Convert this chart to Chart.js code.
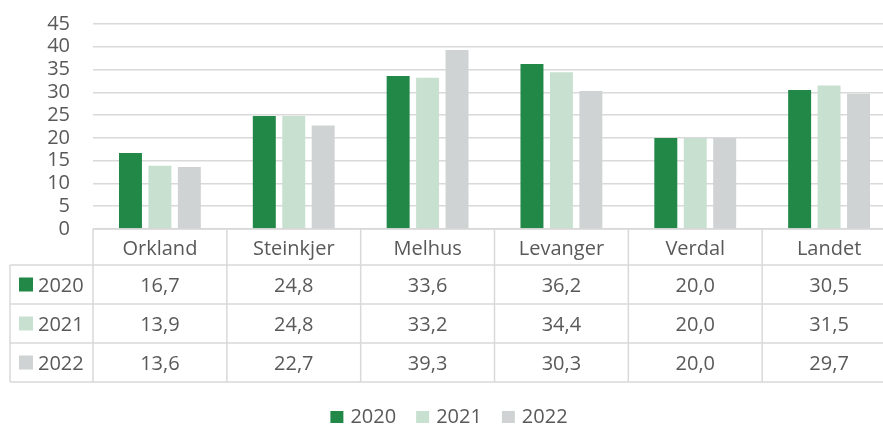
<!DOCTYPE html>
<html>
<head>
<meta charset="utf-8">
<script src="https://cdn.jsdelivr.net/npm/chart.js@4.4.1/dist/chart.umd.min.js"></script>
<style>
html,body{margin:0;padding:0;overflow:hidden;background:#ffffff;width:883px;height:425px;}
canvas{display:block;}
</style>
</head>
<body>
<canvas id="c" width="896" height="425" style="width:896px;height:425px"></canvas>
<script>
// ---- data ----
const categories = ['Orkland', 'Steinkjer', 'Melhus', 'Levanger', 'Verdal', 'Landet'];
const seriesLabels = ['2020', '2021', '2022'];
const values2020 = [16.7, 24.8, 33.6, 36.2, 20.0, 30.5];
const values2021 = [13.9, 24.8, 33.2, 34.4, 20.0, 31.5];
const values2022 = [13.6, 22.7, 39.3, 30.3, 20.0, 29.7];
const yTickValues = [0, 5, 10, 15, 20, 25, 30, 35, 40, 45];

const seriesValues = [values2020, values2021, values2022];
const seriesColors = ['#218847', '#C8E0CF', '#D0D3D4'];
const textColor = '#595959';
const lineColor = '#D9D9D9';
const fontFamily = '"Open Sans", "Noto Sans", sans-serif';

function fmt(v) { return v.toFixed(1).replace('.', ','); }

const tablePlugin = {
  id: 'dataTable',
  afterDraw(chart) {
    const ctx = chart.ctx;
    const ca = chart.chartArea;
    const xs = chart.scales.x;
    const n = categories.length;
    const colW = (ca.right - ca.left) / n;
    const top = ca.bottom;
    const hdrB = top + 36;
    const rowH = 39;
    const tableLeft = 10;
    const bottom = hdrB + rowH * seriesLabels.length;

    ctx.save();
    ctx.strokeStyle = lineColor;
    ctx.lineWidth = 1.5;
    ctx.beginPath();
    ctx.moveTo(ca.left, top); ctx.lineTo(ca.right, top);
    for (let r = 0; r <= seriesLabels.length; r++) {
      const y = hdrB + r * rowH;
      ctx.moveTo(tableLeft, y); ctx.lineTo(ca.right, y);
    }
    ctx.moveTo(tableLeft, hdrB); ctx.lineTo(tableLeft, bottom);
    for (let i = 0; i <= n; i++) {
      const x = ca.left + i * colW;
      ctx.moveTo(x, top); ctx.lineTo(x, bottom);
    }
    ctx.stroke();

    ctx.font = '20px ' + fontFamily;
    ctx.fillStyle = textColor;
    ctx.textBaseline = 'alphabetic';
    ctx.textAlign = 'center';
    categories.forEach((c, i) => {
      ctx.fillText(c, xs.getPixelForValue(i), (top + hdrB) / 2 + 7.5);
    });
    seriesLabels.forEach((lab, r) => {
      const yc = hdrB + r * rowH + rowH / 2;
      ctx.fillStyle = seriesColors[r];
      ctx.fillRect(19, yc - 7, 14, 14);
      ctx.fillStyle = textColor;
      ctx.textAlign = 'left';
      ctx.fillText(lab, 38, yc + 7.5);
      ctx.textAlign = 'center';
      seriesValues[r].forEach((v, i) => {
        ctx.fillText(fmt(v), xs.getPixelForValue(i), yc + 7.5);
      });
    });

    // legend
    const gap = 20, boxW = 13, boxH = 12, boxGap = 7;
    const widths = seriesLabels.map(l => boxW + boxGap + ctx.measureText(l).width);
    const total = widths.reduce((a, b) => a + b, 0) + gap * (widths.length - 1);
    let x = 449 - total / 2;
    const baseY = 423;
    ctx.textAlign = 'left';
    seriesLabels.forEach((l, i) => {
      ctx.fillStyle = seriesColors[i];
      ctx.fillRect(x, baseY - boxH, boxW, boxH);
      ctx.fillStyle = textColor;
      ctx.fillText(l, x + boxW + boxGap, baseY);
      x += widths[i] + gap;
    });
    ctx.restore();
  }
};

new Chart(document.getElementById('c'), {
  type: 'bar',
  data: {
    labels: categories,
    datasets: seriesLabels.map((l, i) => ({
      label: l,
      data: seriesValues[i],
      backgroundColor: seriesColors[i],
      borderWidth: 0,
      categoryPercentage: 0.66,
      barPercentage: 0.78
    }))
  },
  options: {
    responsive: false,
    animation: false,
    devicePixelRatio: 1,
    layout: { padding: { top: 24, bottom: 43, left: 0, right: 0 } },
    plugins: { legend: { display: false }, tooltip: { enabled: false } },
    scales: {
      x: {
        ticks: { display: false },
        grid: { display: false },
        border: { display: false },
        afterFit: s => { s.height = 153; }
      },
      y: {
        min: 0,
        max: 45,
        afterBuildTicks: s => { s.ticks = yTickValues.map(v => ({ value: v })); },
        ticks: { color: textColor, font: { family: fontFamily, size: 20, lineHeight: 1 }, padding: 23, autoSkip: false },
        grid: { color: lineColor, lineWidth: 1.5, drawTicks: false },
        border: { display: false },
        afterFit: s => { s.width = 93; s.paddingTop = 0; s.paddingBottom = 0; }
      }
    }
  },
  plugins: [tablePlugin]
});
</script>
</body>
</html>
